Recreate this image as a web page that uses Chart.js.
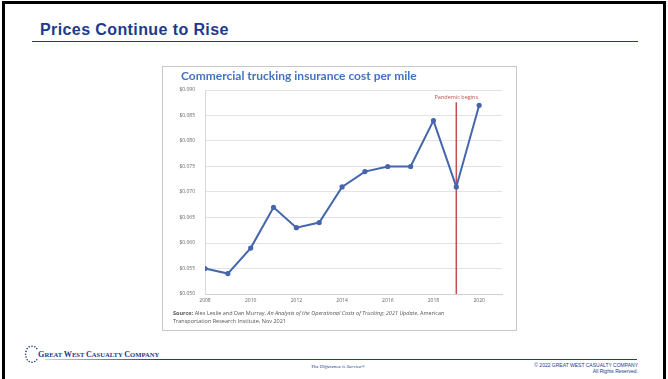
<!DOCTYPE html>
<html>
<head>
<meta charset="utf-8">
<script src="https://cdn.jsdelivr.net/npm/chart.js@4"></script>
<style>
  html, body { margin: 0; padding: 0; background: #fff; }
  body { width: 668px; height: 379px; position: relative; overflow: hidden; font-family: "Liberation Sans", Arial, sans-serif; }
  #frame { position: absolute; left: 2px; top: 1px; width: 658px; height: 400px; border-top: 3px solid #000; border-left: 3px solid #000; border-right: 3px solid #000; }
  #title { position: absolute; left: 40px; top: 21px; font-size: 16px; font-weight: bold; letter-spacing: 0.4px; color: #1d3a8c; }
  #rule { position: absolute; left: 32px; top: 41px; width: 606px; height: 1px; background: #1d3a8c; }
  #box { position: absolute; left: 162px; top: 66px; width: 353px; height: 263px; border: 1px solid #c8c8c8; background: #fff; }
  #box canvas { position: absolute; left: 0; top: 0; }
  #source { position: absolute; left: 10px; top: 242px; font-family: "Open Sans", sans-serif; font-size: 5.5px; line-height: 8px; color: #555; }
  #logo { position: absolute; left: 38px; top: 350px; font-family: "Liberation Serif", serif; font-weight: bold; font-size: 6.6px; color: #1d3a8c; }
  #logo .big { font-size: 8.2px; }
  #dots { position: absolute; left: 24px; top: 344px; }
  #foot { position: absolute; left: 45px; top: 359px; width: 592px; height: 1px; background: linear-gradient(to right, #c9d2e8, #1d3a8c 20%); }
  #tag { position: absolute; left: 311px; top: 364px; font-family: "Liberation Serif", serif; font-style: italic; font-size: 5px; color: #1d3a8c; }
  #copy { position: absolute; right: 30px; top: 362px; font-size: 5px; line-height: 6px; text-align: right; color: #1d3a8c; }
</style>
</head>
<body>
<div id="frame"></div>
<div id="title">Prices Continue to Rise</div>
<div id="rule"></div>

<div id="box">
  <canvas id="chart" width="353" height="263"></canvas>
  <div id="source"><b>Source:</b> Alex Leslie and Dan Murray, <i>An Analysis of the Operational Costs of Trucking: 2021 Update</i>, American<br>Transportation Research Institute, Nov 2021</div>
</div>

<svg id="dots" width="16" height="22" viewBox="0 0 20 26">
  <g fill="#1d3a8c">
    <circle cx="10" cy="2" r="1"/><circle cx="13.5" cy="2.8" r="1"/><circle cx="6.5" cy="2.8" r="1"/>
    <circle cx="16" cy="5" r="1"/><circle cx="4" cy="5" r="1"/>
    <circle cx="2.5" cy="8.5" r="1"/><circle cx="2" cy="12" r="1"/><circle cx="2.5" cy="15.5" r="1"/>
    <circle cx="4" cy="19" r="1"/><circle cx="6.5" cy="21.2" r="1"/><circle cx="10" cy="22" r="1"/>
    <circle cx="13.5" cy="21.2" r="1"/><circle cx="16" cy="19" r="1"/>
  </g>
</svg>
<div id="logo"><span class="big">G</span>REAT <span class="big">W</span>EST <span class="big">C</span>ASUALTY <span class="big">C</span>OMPANY</div>
<div id="foot"></div>
<div id="tag">The Difference is Service®</div>
<div id="copy">© 2022 GREAT WEST CASUALTY COMPANY<br>All Rights Reserved.</div>

<script>
const years = [2008, 2009, 2010, 2011, 2012, 2013, 2014, 2015, 2016, 2017, 2018, 2019, 2020];
const costPerMile = [0.055, 0.054, 0.059, 0.067, 0.063, 0.064, 0.071, 0.074, 0.075, 0.075, 0.084, 0.071, 0.087];
const chartHeading = 'Commercial trucking insurance cost per mile';
const pandemicYear = 2019;
const pandemicLabel = 'Pandemic begins';
const pandemicTop = 0.0876;
const yMin = 0.050, yMax = 0.090, yStep = 0.005;
const xMin = 2008, xMax = 2021, xStep = 2;

// heading sits a bit right of the canvas edge, like the Excel original
const headingText = {
  id: 'headingText',
  afterDraw(chart) {
    const ctx = chart.ctx;
    ctx.save();
    ctx.font = 'bold 12px Lato';
    ctx.fillStyle = '#4472c4';
    ctx.textBaseline = 'middle';
    ctx.fillText(chartHeading, 18, 9);
    ctx.restore();
  }
};

// writes "Pandemic begins" above the red marker line
const pandemicText = {
  id: 'pandemicText',
  afterDatasetsDraw(chart) {
    const x = chart.scales.x.getPixelForValue(pandemicYear);
    const y = chart.scales.y.getPixelForValue(pandemicTop);
    const ctx = chart.ctx;
    ctx.save();
    ctx.font = '5.5px "Open Sans"';
    ctx.fillStyle = '#c0504d';
    ctx.textAlign = 'center';
    ctx.textBaseline = 'bottom';
    ctx.fillText(pandemicLabel, x, y - 2);
    ctx.restore();
  }
};

new Chart(document.getElementById('chart'), {
  type: 'line',
  data: {
    datasets: [{
      data: years.map((yr, i) => ({ x: yr, y: costPerMile[i] })),
      borderColor: '#4565ad',
      backgroundColor: '#4565ad',
      borderWidth: 2,
      pointRadius: 1.6,
      tension: 0
    }, {
      data: [{ x: pandemicYear, y: pandemicTop }, { x: pandemicYear, y: yMin }],
      borderColor: '#c0504d',
      borderWidth: 1.5,
      pointRadius: 0
    }]
  },
  options: {
    responsive: false,
    animation: false,
    layout: { padding: { top: 23, left: 0, right: 14, bottom: 28 } },
    plugins: {
      legend: { display: false },
      tooltip: { enabled: false },
      title: { display: false }
    },
    scales: {
      x: {
        type: 'linear',
        min: xMin, max: xMax,
        grid: { display: false, drawTicks: false },
        border: { color: '#d0d0d0' },
        afterFit: s => { s.height = 8; },
        ticks: { stepSize: xStep, padding: 4, color: '#666', font: { family: 'Open Sans', size: 5 },
                 callback: v => v <= 2020 ? String(v) : '' }
      },
      y: {
        min: yMin, max: yMax,
        grid: { color: '#e3e3e3', drawTicks: false },
        border: { color: '#d8d8d8' },
        afterFit: s => { s.width = 42; },
        ticks: { stepSize: yStep, padding: 10, color: '#666', font: { family: 'Open Sans', size: 5 },
                 callback: v => '$' + v.toFixed(3) }
      }
    }
  },
  plugins: [headingText, pandemicText]
});
</script>
</body>
</html>
